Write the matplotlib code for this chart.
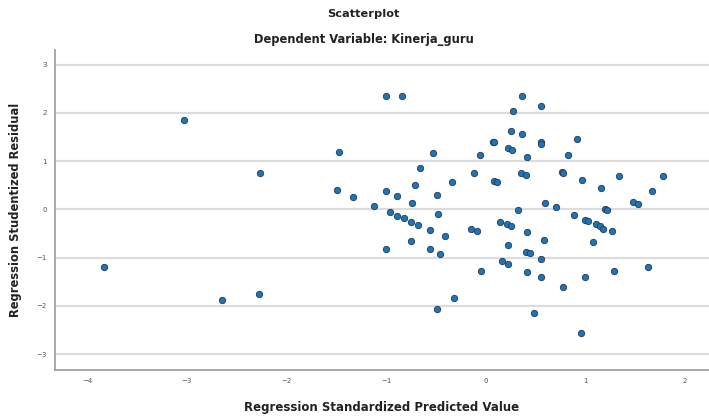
import matplotlib
matplotlib.use("Agg")
import matplotlib.pyplot as plt

# predicted values (x) and studentized residuals (y)
pred_x = [-3.83, -3.03, -2.65, -2.27, -2.26, -1.47, -1.49, -1.33,
          -0.996, -0.836, 0.361, 0.558, 0.277, 0.254, 0.361, 0.558, 0.558,
          0.919, 0.070, 0.084, 0.227, 0.264, 0.418, 0.822, -0.053, -0.528,
          -0.655, -0.117, 0.354, 0.401, 0.769, 0.779, 0.080, 0.110, -0.338,
          -0.705, 0.966, 1.337, 1.775, 1.157, 1.665, -1.003, -0.889, -0.485,
          -0.739, -1.117, -0.963, -0.889, -0.819, -0.749, -0.675, -0.475,
          -0.558, -0.408, -0.746, -0.996, -0.558, -0.455, 0.598, 0.705, 0.328,
          0.883, 0.996, 1.026, 1.110, 1.143, 1.173, 1.194, 1.214, 1.474, 1.525,
          1.264, -0.144, -0.087, 0.147, 0.217, 0.254, 0.411, 0.221, 0.588,
          0.405, 0.441, 0.558, 1.077, 0.167, 0.227, -0.043, 0.418, 0.558,
          0.999, 1.287, 1.632, 0.779, -0.321, -0.485, 0.488, 0.956]
resid_y = [-1.20, 1.84, -1.87, -1.76, 0.75, 1.19, 0.39, 0.26,
           2.34, 2.34, 2.34, 2.14, 2.03, 1.63, 1.56, 1.40, 1.36,
           1.45, 1.40, 1.39, 1.27, 1.22, 1.09, 1.13, 1.13, 1.16,
           0.85, 0.76, 0.76, 0.71, 0.77, 0.75, 0.59, 0.57, 0.57,
           0.51, 0.60, 0.68, 0.68, 0.44, 0.38, 0.37, 0.27, 0.30,
           0.13, 0.07, -0.06, -0.13, -0.19, -0.26, -0.33, -0.10,
           -0.43, -0.55, -0.65, -0.83, -0.82, -0.92, 0.14, 0.05, -0.02,
           -0.12, -0.22, -0.24, -0.31, -0.35, -0.41, 0.01, -0.01, 0.15, 0.12,
           -0.46, -0.40, -0.45, -0.26, -0.31, -0.35, -0.48, -0.73, -0.64,
           -0.88, -0.90, -1.02, -0.68, -1.07, -1.13, -1.27, -1.29, -1.41,
           -1.41, -1.27, -1.19, -1.60, -1.83, -2.07, -2.14, -2.56]

x_ticks = [-4, -3, -2, -1, 0, 1, 2]
y_ticks = [-3, -2, -1, 0, 1, 2, 3]

fig = plt.figure(figsize=(7.09, 4.17), dpi=100)
ax = fig.add_axes([0.0776, 0.1127, 0.9224, 0.7673])

ax.scatter(pred_x, resid_y, s=21, color='#1f74b8', edgecolor='#203a55',
           linewidth=0.6, zorder=3)

ax.set_xlim(-4.32, 2.24)
ax.set_ylim(-3.33, 3.3)
ax.set_xticks(x_ticks)
ax.set_yticks(y_ticks)
ax.tick_params(length=0, labelsize=5, colors='#555555', pad=6)
ax.grid(axis='y', color='#dcdcdc', linewidth=1.6, zorder=0)
for side in ['top', 'right']:
    ax.spines[side].set_visible(False)
for side in ['left', 'bottom']:
    ax.spines[side].set_color('#999999')
    ax.spines[side].set_linewidth(1.2)

ax.set_xlabel('Regression Standardized Predicted Value', fontsize=8.5,
              fontweight='bold', color='#222222', labelpad=12)
ax.set_ylabel('Regression Studentized Residual', fontsize=8.3,
              fontweight='bold', color='#222222', labelpad=10)

fig.text(0.513, 0.967, 'Scatterplot', ha='center', va='center',
         fontsize=8.2, fontweight='bold', color='#222222')
fig.text(0.513, 0.906, 'Dependent Variable: Kinerja_guru', ha='center',
         va='center', fontsize=8.3, fontweight='bold', color='#222222')

fig.savefig('out.png', dpi=100)
